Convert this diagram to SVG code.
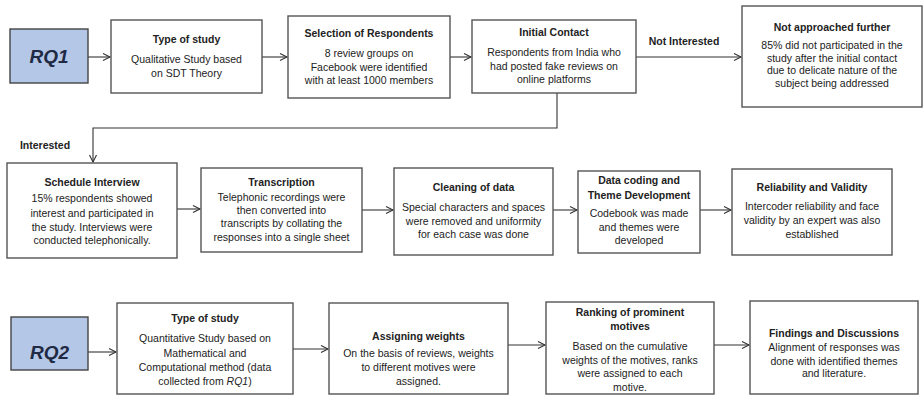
<svg xmlns="http://www.w3.org/2000/svg" width="924" height="396" viewBox="0 0 924 396">
<defs>
<marker id="ah" markerWidth="10" markerHeight="10" refX="8" refY="4" orient="auto" markerUnits="userSpaceOnUse">
<path d="M1,0.5 L8,4 L1,7.5" fill="none" stroke="#333" stroke-width="1.1"/>
</marker>
<style>
.box{fill:#fff;stroke:#555;stroke-width:1.4}
.rq{fill:#b4c7e7;stroke:#444;stroke-width:1.4}
.t{font-family:"Liberation Sans",Arial,sans-serif;font-size:10.5px;fill:#222;text-anchor:middle}
.b{font-weight:bold}
.rqt{font-family:"Liberation Sans",Arial,sans-serif;font-size:19px;font-weight:bold;font-style:italic;fill:#1f2a44;text-anchor:middle}
.c{fill:none;stroke:#333;stroke-width:1.1}
</style>
</defs>
<rect width="924" height="396" fill="#fff"/>

<g id="connectors">
<line class="c" x1="88" y1="57" x2="110" y2="57" marker-end="url(#ah)"/>
<line class="c" x1="262" y1="57" x2="287" y2="57" marker-end="url(#ah)"/>
<line class="c" x1="450" y1="57" x2="471" y2="57" marker-end="url(#ah)"/>
<line class="c" x1="636" y1="57" x2="741" y2="57" marker-end="url(#ah)"/>
<polyline class="c" points="557,93 557,128 93,128 93,162" marker-end="url(#ah)"/>
<line class="c" x1="177" y1="209" x2="200" y2="209" marker-end="url(#ah)"/>
<line class="c" x1="362" y1="210" x2="393" y2="210" marker-end="url(#ah)"/>
<line class="c" x1="553" y1="210" x2="577" y2="210" marker-end="url(#ah)"/>
<line class="c" x1="700" y1="210" x2="731" y2="210" marker-end="url(#ah)"/>
<line class="c" x1="88" y1="352" x2="116" y2="352" marker-end="url(#ah)"/>
<line class="c" x1="293" y1="349" x2="328" y2="349" marker-end="url(#ah)" stroke-width="1.6"/>
<line class="c" x1="508" y1="345" x2="545" y2="345" marker-end="url(#ah)"/>
<line class="c" x1="714" y1="345" x2="749" y2="345" marker-end="url(#ah)"/>
<text class="t b" x="684" y="45" font-size="12px">Not Interested</text>
<text class="t b" x="45" y="149" font-size="12px">Interested</text>
</g>

<g id="rq1">
<rect class="rq" x="10" y="29" width="78" height="54"/>
<text class="rqt" x="49" y="63">RQ1</text>
</g>

<g id="type1">
<rect class="box" x="111" y="20" width="151" height="73"/>
<text class="t b" x="186.5" y="43">Type of study</text>
<text class="t" x="186.5" y="63">Qualitative Study based</text>
<text class="t" x="186.5" y="77">on  SDT Theory</text>
</g>

<g id="selection">
<rect class="box" x="288" y="16" width="162" height="82"/>
<text class="t b" x="369" y="37">Selection of Respondents</text>
<text class="t" x="369" y="57">8 review groups on</text>
<text class="t" x="369" y="71">Facebook were identified</text>
<text class="t" x="369" y="84">with at least 1000 members</text>
</g>

<g id="initial">
<rect class="box" x="472" y="20" width="164" height="73"/>
<text class="t b" x="554" y="36">Initial Contact</text>
<text class="t" x="554" y="56">Respondents from India who</text>
<text class="t" x="554" y="70">had posted fake reviews on</text>
<text class="t" x="554" y="83">online platforms</text>
</g>

<g id="notapproached">
<rect class="box" x="742" y="6" width="180" height="101"/>
<text class="t b" x="832" y="31">Not approached further</text>
<text class="t" x="832" y="49">85% did not participated in the</text>
<text class="t" x="832" y="62">study after the initial contact</text>
<text class="t" x="832" y="74">due to delicate nature of the</text>
<text class="t" x="832" y="87">subject being addressed</text>
</g>

<g id="schedule">
<rect class="box" x="7" y="163" width="170" height="95"/>
<text class="t b" x="92" y="186">Schedule Interview</text>
<text class="t" x="92" y="202">15% respondents showed</text>
<text class="t" x="92" y="217">interest and participated in</text>
<text class="t" x="92" y="231">the study. Interviews were</text>
<text class="t" x="92" y="244">conducted telephonically.</text>
</g>

<g id="transcription">
<rect class="box" x="201" y="168" width="161" height="84"/>
<text class="t b" x="281.5" y="186">Transcription</text>
<text class="t" x="281.5" y="201">Telephonic recordings were</text>
<text class="t" x="281.5" y="214">then converted into</text>
<text class="t" x="281.5" y="227">transcripts by collating the</text>
<text class="t" x="281.5" y="241">responses into a single sheet</text>
</g>

<g id="cleaning">
<rect class="box" x="394" y="168" width="159" height="87"/>
<text class="t b" x="473.5" y="191">Cleaning of data</text>
<text class="t" x="473.5" y="211">Special characters and spaces</text>
<text class="t" x="473.5" y="225">were removed and uniformity</text>
<text class="t" x="473.5" y="238">for each case was done</text>
</g>

<g id="coding">
<rect class="box" x="578" y="171" width="122" height="82"/>
<text class="t b" x="639" y="184">Data coding and</text>
<text class="t b" x="639" y="199">Theme Development</text>
<text class="t" x="639" y="217">Codebook was made</text>
<text class="t" x="639" y="231">and themes were</text>
<text class="t" x="639" y="244">developed</text>
</g>

<g id="reliability">
<rect class="box" x="732" y="169" width="160" height="86"/>
<text class="t b" x="812" y="191">Reliability and Validity</text>
<text class="t" x="812" y="210">Intercoder reliability and face</text>
<text class="t" x="812" y="224">validity by an expert was also</text>
<text class="t" x="812" y="238">established</text>
</g>

<g id="rq2">
<rect class="rq" x="11" y="317" width="77" height="53"/>
<text class="rqt" x="49.5" y="359">RQ2</text>
</g>

<g id="type2">
<rect class="box" x="117" y="303" width="176" height="91"/>
<text class="t b" x="205" y="322">Type of study</text>
<text class="t" x="205" y="342">Quantitative Study based on</text>
<text class="t" x="205" y="357">Mathematical and</text>
<text class="t" x="205" y="371">Computational method (data</text>
<text class="t" x="205" y="385">collected from <tspan font-style="italic">RQ1</tspan>)</text>
</g>

<g id="weights">
<rect class="box" x="329" y="303" width="179" height="91"/>
<text class="t b" x="418.5" y="340">Assigning weights</text>
<text class="t" x="418.5" y="357">On the basis of reviews, weights</text>
<text class="t" x="418.5" y="371">to different motives were</text>
<text class="t" x="418.5" y="385">assigned.</text>
</g>

<g id="ranking">
<rect class="box" x="546" y="302" width="168" height="92"/>
<text class="t b" x="630" y="316">Ranking of prominent</text>
<text class="t b" x="630" y="330">motives</text>
<text class="t" x="630" y="350">Based on the cumulative</text>
<text class="t" x="630" y="364">weights of the motives, ranks</text>
<text class="t" x="630" y="377">were assigned to each</text>
<text class="t" x="630" y="391">motive.</text>
</g>

<g id="findings">
<rect class="box" x="750" y="301" width="168" height="93"/>
<text class="t b" x="834" y="337">Findings and Discussions</text>
<text class="t" x="834" y="351">Alignment of responses was</text>
<text class="t" x="834" y="365">done with identified themes</text>
<text class="t" x="834" y="377">and literature.</text>
</g>
</svg>
